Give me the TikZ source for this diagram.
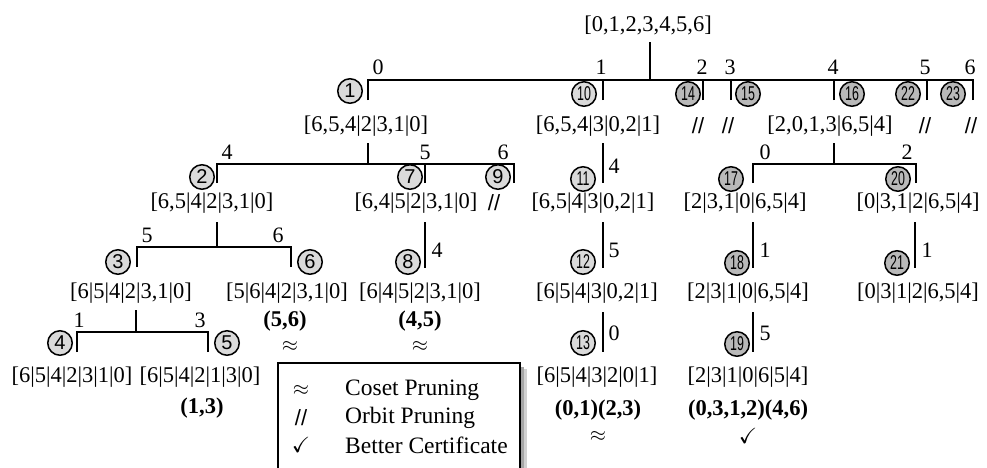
\documentclass[tikz,border=0pt]{standalone}
\usepackage{amssymb}
\usepackage{fontspec}
\usepackage{graphicx}
\setmainfont{Liberation Serif}
\newfontfamily\lsans{Liberation Sans}
\definecolor{cl}{HTML}{DADADA}
\definecolor{cd}{HTML}{B9B9B9}
\newcommand{\tw}[1]{\scalebox{0.62}[1]{#1}}
\tikzset{
 lbl/.style={inner sep=0pt, font=\fontsize{22.5}{27}\selectfont},
 bl/.style={inner sep=0pt, font=\fontsize{22.5}{27}\selectfont\bfseries},
 el/.style={inner sep=0pt, font=\fontsize{22}{26}\selectfont},
 cn/.style={circle, draw, line width=1.5pt, minimum size=24.5pt, inner sep=0pt, fill=cl, font=\lsans\fontsize{20}{20}\selectfont},
 cnd/.style={cn, fill=cd},
 br/.style={line width=1.7pt},
 thk/.style={line width=2.6pt},
 pr/.style={inner sep=0pt, font=\lsans\fontsize{22}{22}\selectfont},
 sym/.style={inner sep=0pt, font=\fontsize{22}{26}\selectfont},
 leg/.style={inner sep=0pt, anchor=west, font=\fontsize{23.5}{28}\selectfont},
}
\begin{document}
\begin{tikzpicture}[x=1pt,y=-1pt]
\useasboundingbox (0,0) rectangle (987,467);
% ---------- root ----------
\node[lbl] (root) at (648,25) {[0,1,2,3,4,5,6]};
\coordinate (rs) at (650,42); \coordinate (rb) at (650,80);
\draw[thk] (rs) -- (rb);
\coordinate (d1) at (368,100); \coordinate (d10) at (603,100); \coordinate (d14) at (703,100);
\coordinate (d15) at (731,100); \coordinate (d16) at (834,100); \coordinate (d22) at (927,100);
\coordinate (d23) at (973,100);
\foreach \d in {d1,d10,d14,d15,d16,d22,d23} \draw[br] (\d) |- (rb);
\node[el] (e0) at (378,67) {0};
\node[el] (e1) at (601,67) {1};
\node[el] (e2) at (702,67) {2};
\node[el] (e3) at (730,67) {3};
\node[el] (e4) at (833,67) {4};
\node[el] (e5) at (925,67) {5};
\node[el] (e6) at (970,67) {6};
\node[cn] (c1) at (350,91) {1};
\node[cn] (c10) at (584,94) {\tw{10}};
\node[cnd] (c14) at (688,94) {\tw{14}};
\node[cnd] (c15) at (748,94) {\tw{15}};
\node[cnd] (c16) at (852,94) {\tw{16}};
\node[cnd] (c22) at (908,94) {\tw{22}};
\node[cnd] (c23) at (953,94) {\tw{23}};
\node[lbl] (l1) at (366,126) {[6,5,4|2|3,1|0]};
\node[lbl] (l10) at (598,126) {[6,5,4|3|0,2|1]};
\node[pr] (p14) at (698,126) {//};
\node[pr] (p15) at (728,126) {//};
\node[lbl] (l16) at (830,126) {[2,0,1,3|6,5|4]};
\node[pr] (p22) at (925,126) {//};
\node[pr] (p23) at (971,126) {//};
% ---------- level 2: under node 1 ----------
\coordinate (s1) at (368,143); \coordinate (b1) at (368,164);
\draw[br] (s1) -- (b1);
\coordinate (d2) at (217,183); \coordinate (d7) at (425,183); \coordinate (d9) at (514,183);
\foreach \d in {d2,d7,d9} \draw[br] (\d) |- (b1);
\node[el] (e14) at (227,152) {4};
\node[el] (e15) at (425,152) {5};
\node[el] (e16) at (503,152) {6};
\node[cn] (c2) at (202,177) {2};
\node[cn] (c7) at (410,177) {7};
\node[cn] (c9) at (498,177) {9};
\node[lbl] (l2) at (212,203) {[6,5|4|2|3,1|0]};
\node[lbl] (l7) at (416,203) {[6,4|5|2|3,1|0]};
\node[pr] (p9) at (494,203) {//};
% under node 10
\coordinate (a10) at (603,143); \coordinate (z11) at (603,183);
\draw[br] (a10) -- (z11);
\node[el] (e104) at (614,166) {4};
\node[cn] (c11) at (583,179) {\tw{11}};
\node[lbl] (l11) at (593,203) {[6,5|4|3|0,2|1]};
% under node 16
\coordinate (s16) at (834,143); \coordinate (b16) at (834,164);
\draw[thk] (s16) -- (b16);
\coordinate (d17) at (753,183); \coordinate (d20) at (916,183);
\foreach \d in {d17,d20} \draw[br] (\d) |- (b16);
\node[el] (e160) at (765,152) {0};
\node[el] (e162) at (907,152) {2};
\node[cnd] (c17) at (731,179) {\tw{17}};
\node[cnd] (c20) at (898,179) {\tw{20}};
\node[lbl] (l17) at (745,203) {[2|3,1|0|6,5|4]};
\node[lbl] (l20) at (918,203) {[0|3,1|2|6,5|4]};
% ---------- level 3 ----------
\coordinate (s2) at (217,222); \coordinate (b2) at (217,247);
\draw[br] (s2) -- (b2);
\coordinate (d3) at (137,267); \coordinate (d6) at (291,267);
\foreach \d in {d3,d6} \draw[br] (\d) |- (b2);
\node[el] (e25) at (147,235) {5};
\node[el] (e26) at (278,235) {6};
\node[cn] (c3) at (118,262) {3};
\node[cn] (c6) at (310,262) {6};
\node[lbl] (l3) at (131,293) {[6|5|4|2|3,1|0]};
\node[lbl] (l6) at (287,293) {[5|6|4|2|3,1|0]};
\node[bl] (g6) at (285,321) {(5,6)};
\node[sym] (x6) at (290,346) {$\approx$};
% node 7 -> 8
\coordinate (a7) at (425,222); \coordinate (z8) at (425,268);
\draw[thk] (a7) -- (z8);
\node[el] (e74) at (437,250) {4};
\node[cn] (c8) at (408,262) {8};
\node[lbl] (l8) at (420,293) {[6|4|5|2|3,1|0]};
\node[bl] (g8) at (420,321) {(4,5)};
\node[sym] (x8) at (420,346) {$\approx$};
% node 11 -> 12
\coordinate (a11) at (603,222); \coordinate (z12) at (603,268);
\draw[br] (a11) -- (z12);
\node[el] (e115) at (614,250) {5};
\node[cn] (c12) at (583,262) {\tw{12}};
\node[lbl] (l12) at (597,293) {[6|5|4|3|0,2|1]};
% node 17 -> 18
\coordinate (a17) at (753,222); \coordinate (z18) at (753,268);
\draw[thk] (a17) -- (z18);
\node[el] (e171) at (765,250) {1};
\node[cnd] (c18) at (737,263) {\tw{18}};
\node[lbl] (l18) at (748,293) {[2|3|1|0|6,5|4]};
% node 20 -> 21
\coordinate (a20) at (915,222); \coordinate (z21) at (915,268);
\draw[thk] (a20) -- (z21);
\node[el] (e201) at (927,250) {1};
\node[cnd] (c21) at (897,263) {\tw{21}};
\node[lbl] (l21) at (918,293) {[0|3|1|2|6,5|4]};
% ---------- level 4 ----------
\coordinate (s3) at (136,310); \coordinate (b3) at (136,332);
\draw[br] (s3) -- (b3);
\coordinate (d4) at (77,352); \coordinate (d5) at (208,352);
\foreach \d in {d4,d5} \draw[br] (\d) |- (b3);
\node[el] (e31) at (79,320) {1};
\node[el] (e33) at (200,320) {3};
\node[cn] (c4) at (60,343) {4};
\node[cn] (c5) at (227,343) {5};
\node[lbl] (l4) at (72,377) {[6|5|4|2|3|1|0]};
\node[lbl] (l5) at (200,377) {[6|5|4|2|1|3|0]};
\node[bl] (g5) at (202,408) {(1,3)};
% node 12 -> 13
\coordinate (a12) at (603,312); \coordinate (z13) at (603,352);
\draw[br] (a12) -- (z13);
\node[el] (e120) at (614,333) {0};
\node[cn] (c13) at (583,343) {\tw{13}};
\node[lbl] (l13) at (597,377) {[6|5|4|3|2|0|1]};
\node[bl] (g13) at (598,410) {(0,1)(2,3)};
\node[sym] (x13) at (598,436) {$\approx$};
% node 18 -> 19
\coordinate (a18) at (753,312); \coordinate (z19) at (753,352);
\draw[thk] (a18) -- (z19);
\node[el] (e185) at (765,333) {5};
\node[cnd] (c19) at (737,344) {\tw{19}};
\node[lbl] (l19) at (748,377) {[2|3|1|0|6|5|4]};
\node[bl] (g19) at (748,410) {(0,3,1,2)(4,6)};
\node[sym] (x19) at (748,436) {$\checkmark$};
% ---------- legend ----------
\fill[black!18] (284,369) rectangle (527,480);
\fill[black!35] (282,367) rectangle (524,480);
\draw[line width=1.7pt, fill=white] (278,363) rectangle (520,480);
\node[sym] (k1) at (301,390) {$\approx$};
\node[pr] (k2) at (301,418) {//};
\node[sym] (k3) at (301,445) {$\checkmark$};
\node[leg] (t1) at (345,390) {Coset Pruning};
\node[leg] (t2) at (345,418) {Orbit Pruning};
\node[leg] (t3) at (345,445) {Better Certificate};
\end{tikzpicture}
\end{document}
